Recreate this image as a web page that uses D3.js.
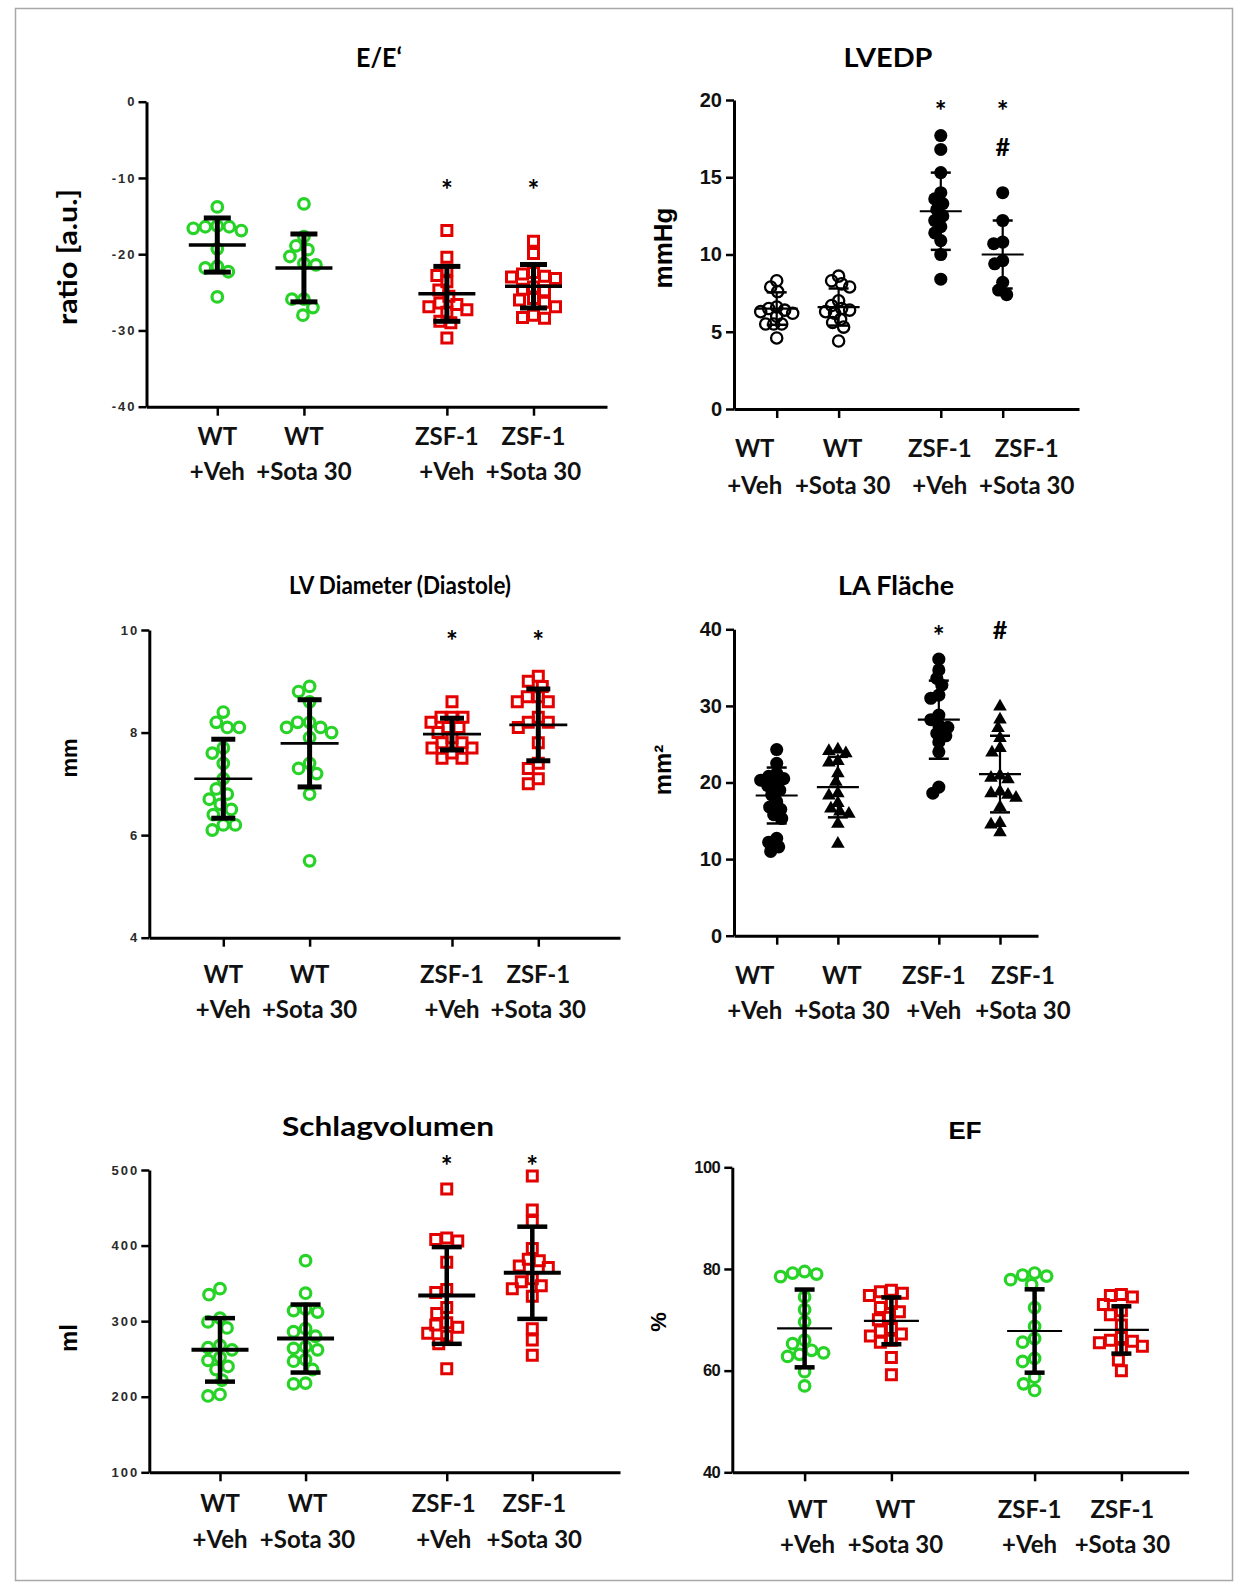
<!DOCTYPE html>
<html lang="en">
<head>
    <meta charset="UTF-8">
    <title>Echo und Hämodynamik</title>
    <script type="text/javascript" src="https://cdnjs.cloudflare.com/ajax/libs/d3/7.8.5/d3.min.js"></script>
    <style>
        body { margin: 0; background: #fff; }
        text { font-family: Lato, "Open Sans", sans-serif; }
        .tick text { font-family: "Liberation Sans", Arial, sans-serif; font-weight: bold; }
    </style>
</head>
<body>
<svg id="fig" width="1239" height="1588"></svg>
<script>
    // groups (two label lines under each tick)
    var groupTop = ["WT", "WT", "ZSF-1", "ZSF-1"];
    var groupBottom = ["+Veh", "+Sota 30", "+Veh", "+Sota 30"];
    var slots = [0, 1, 2.65, 3.65];

    // E/E'
    var eeValues = [
        [-13.8, -16.3, -16.4, -16.4, -16.6, -16.9, -19.3, -21.6, -21.8, -22.3, -25.6],
        [-13.4, -17.7, -18.9, -19.4, -20.3, -21.2, -21.4, -25.9, -25.9, -27.0, -28.0],
        [-16.9, -20.4, -22.1, -22.8, -23.6, -24.7, -25.5, -26.4, -26.6, -26.9, -27.3, -27.6, -28.8, -29.0, -31.0],
        [-18.3, -19.9, -22.4, -22.6, -22.9, -23.0, -23.2, -24.3, -24.6, -24.8, -25.8, -26.0, -26.3, -26.9, -28.0, -28.3, -28.4]
    ];
    var eeMean = [-18.8, -21.8, -25.2, -24.2];
    var eeSd = [3.55, 4.45, 3.6, 2.85];
    var eeTicks = [0, -10, -20, -30, -40];
    var eeMarks = ["", "", "*", "*"];

    // LVEDP
    var lvedpValues = [
        [8.3, 7.9, 7.6, 6.6, 6.5, 6.4, 6.3, 6.2, 6.0, 5.5, 5.5, 5.5, 4.6],
        [8.6, 8.3, 8.1, 7.9, 7.0, 6.7, 6.5, 6.4, 6.3, 6.2, 5.8, 5.6, 5.3, 4.4],
        [17.7, 16.8, 15.3, 14.0, 13.6, 13.3, 12.9, 12.5, 12.2, 11.8, 11.4, 10.9, 10.0, 8.4],
        [14.0, 12.2, 10.8, 10.7, 9.6, 9.4, 8.2, 7.7, 7.4]
    ];
    var lvedpMean = [6.5, 6.6, 12.8, 10.0];
    var lvedpSd = [1.05, 1.2, 2.5, 2.2];
    var lvedpTicks = [0, 5, 10, 15, 20];
    var lvedpMarks = ["", "", "*", "*"];
    var lvedpMarks2 = ["", "", "", "#"];

    // LV Diameter (Diastole)
    var lvdValues = [
        [8.4, 8.2, 8.1, 8.1, 7.7, 7.6, 7.4, 7.1, 6.9, 6.8, 6.7, 6.6, 6.5, 6.4, 6.2, 6.2, 6.1],
        [8.9, 8.8, 8.6, 8.2, 8.2, 8.1, 8.1, 8.0, 7.9, 7.4, 7.3, 7.2, 6.8, 5.5],
        [8.6, 8.3, 8.3, 8.3, 8.2, 8.1, 8.1, 8.0, 7.9, 7.8, 7.8, 7.7, 7.7, 7.6, 7.5, 7.5],
        [9.1, 9.0, 8.9, 8.7, 8.7, 8.6, 8.6, 8.3, 8.2, 8.2, 8.1, 7.8, 7.4, 7.3, 7.1, 7.0]
    ];
    var lvdMean = [7.1, 7.79, 7.97, 8.15];
    var lvdSd = [0.77, 0.85, 0.31, 0.7];
    var lvdTicks = [4, 6, 8, 10];
    var lvdMarks = ["", "", "*", "*"];

    // LA Fläche
    var laValues = [
        [24.3, 22.5, 21.2, 20.8, 20.5, 20.3, 20.0, 19.6, 19.0, 18.4, 17.5, 16.8, 16.5, 15.8, 15.3, 12.7, 12.2, 11.6, 11.0],
        [24.3, 24.1, 23.8, 22.8, 22.6, 21.2, 20.1, 18.6, 18.3, 17.3, 16.6, 16.2, 15.9, 14.6, 12.0],
        [36.1, 34.7, 33.6, 32.7, 31.4, 31.0, 28.8, 28.2, 27.5, 27.2, 26.4, 26.1, 25.3, 24.0, 19.4, 18.6],
        [29.9, 28.2, 27.1, 25.8, 24.5, 23.9, 20.9, 20.6, 20.4, 18.8, 18.6, 18.4, 18.0, 16.8, 14.7, 14.5, 13.5]
    ];
    var laMean = [18.3, 19.4, 28.2, 21.1];
    var laSd = [3.65, 3.95, 5.1, 5.0];
    var laTicks = [0, 10, 20, 30, 40];
    var laMarks = ["", "", "*", "#"];

    // Schlagvolumen
    var svValues = [
        [343, 335, 304, 299, 291, 268, 265, 262, 252, 248, 240, 236, 222, 203, 201],
        [380, 337, 316, 314, 312, 290, 286, 280, 266, 264, 262, 249, 247, 236, 218, 217],
        [475, 410, 408, 406, 378, 342, 338, 318, 310, 298, 295, 292, 284, 280, 270, 237],
        [492, 447, 432, 396, 382, 380, 373, 371, 356, 352, 347, 343, 333, 290, 275, 255]
    ];
    var svMean = [262, 277, 334, 364];
    var svSd = [42, 45, 64, 61];
    var svTicks = [100, 200, 300, 400, 500];
    var svMarks = ["", "", "*", "*"];

    // EF
    var efValues = [
        [79.5, 79.2, 79.0, 78.5, 74.5, 72.0, 69.6, 66.0, 65.3, 64.0, 63.5, 63.2, 62.8, 59.8, 57.0],
        [75.8, 75.5, 75.2, 74.8, 73.2, 72.4, 71.6, 70.5, 70.0, 68.3, 67.8, 67.2, 66.8, 66.0, 65.6, 62.6, 59.2],
        [79.2, 78.8, 78.6, 77.9, 76.9, 72.4, 68.7, 66.3, 65.6, 62.4, 61.8, 58.7, 57.4, 56.1],
        [75.0, 74.8, 74.5, 73.0, 71.8, 71.0, 69.0, 66.5, 66.0, 65.8, 65.5, 64.8, 64.2, 62.1, 60.0]
    ];
    var efMean = [68.3, 69.8, 67.8, 68.0];
    var efSd = [7.65, 4.6, 8.2, 4.65];
    var efTicks = [40, 60, 80, 100];
    var efMarks = ["", "", "", ""];

    var green = "#27d327", red = "#e50000";

    var markerStyles = {
        greenCircle: {type: d3.symbolCircle, size: 88, fill: "none", stroke: green, width: 3.2, diam: 12},
        redSquare: {type: d3.symbolSquare, size: 100, fill: "none", stroke: red, width: 3, diam: 11},
        openBlack: {type: d3.symbolCircle, size: 100, fill: "none", stroke: "#000", width: 2.3, diam: 8},
        dotBlack: {type: d3.symbolCircle, size: 135, fill: "#000", stroke: "none", width: 0, diam: 8.5},
        triBlack: {type: d3.symbolTriangle, size: 80, fill: "#000", stroke: "none", width: 0, diam: 8.5}
    };

    var heavyBars = {vw: 5, capW: 27, capS: 5, meanW: 57, meanS: 3.5};
    var thinBars = {vw: 2.2, capW: 20, capS: 2.5, meanW: 42, meanS: 2.2};

    var smallTicks = {size: 13, spacing: 2, color: "#2a2a2a"};
    var bigTicks = {size: 20, spacing: 0, color: "#111"};

    var panels = [
        {title: "E/E\u2018", tx: 379, ty: 58, tw: 46, tsize: 27, ylab: "ratio [a.u.]", ylx: 68, yly: 257, ylw: 136, ylabFont: "lato",
            values: eeValues, mean: eeMean, sd: eeSd, ticks: eeTicks, marks: eeMarks, markY: 184,
            domain: [-40, 0], axisX: 146.5, yTop: 101.7, yBottom: 406.7, xFirst: 217.3, xLast: 533.5, axisEnd: 607,
            markers: ["greenCircle", "greenCircle", "redSquare", "redSquare"], bars: heavyBars, tickFont: smallTicks,
            lab1: 437, lab2: 472, labShift: [0, 0, 0, 0]},
        {title: "LVEDP", tx: 888, ty: 58, tw: 89, tsize: 27, ylab: "mmHg", ylx: 663, yly: 248, ylSize: 26, ylabFont: "arial",
            values: lvedpValues, mean: lvedpMean, sd: lvedpSd, ticks: lvedpTicks, marks: lvedpMarks, markY: 105,
            marks2: lvedpMarks2, mark2Y: 147,
            domain: [0, 20], axisX: 734, yTop: 100, yBottom: 409, xFirst: 776.7, xLast: 1002.7, axisEnd: 1079,
            markers: ["openBlack", "openBlack", "dotBlack", "dotBlack"], bars: thinBars, tickFont: bigTicks,
            lab1: 449, lab2: 486, labShift: [-22, 4, -1, 24]},
        {title: "LV Diameter (Diastole)", tx: 400, ty: 585, tw: 222, tsize: 25, ylab: "mm", ylx: 69, yly: 758, ylSize: 22, ylabFont: "arial",
            values: lvdValues, mean: lvdMean, sd: lvdSd, ticks: lvdTicks, marks: lvdMarks, markY: 635,
            domain: [4, 10], axisX: 149.3, yTop: 630, yBottom: 937.7, xFirst: 223.3, xLast: 538.3, axisEnd: 620,
            markers: ["greenCircle", "greenCircle", "redSquare", "redSquare"],
            bars: {vw: 5, capW: 24, capS: 5, meanW: 58, meanS: 2.6}, tickFont: smallTicks,
            lab1: 975, lab2: 1010, labShift: [0, 0, 0, 0]},
        {title: "LA Fl\u00e4che", tx: 896, ty: 586, tw: 116, tsize: 27, ylab: "mm\u00b2", ylx: 663, yly: 770, ylSize: 24, ylabFont: "arial",
            values: laValues, mean: laMean, sd: laSd, ticks: laTicks, marks: laMarks, markY: 630,
            domain: [0, 40], axisX: 734, yTop: 629.3, yBottom: 935.7, xFirst: 776.7, xLast: 1000, axisEnd: 1038,
            markers: ["dotBlack", "triBlack", "dotBlack", "triBlack"], bars: thinBars, tickFont: bigTicks,
            lab1: 976, lab2: 1011, labShift: [-22, 4, -5, 23]},
        {title: "Schlagvolumen", tx: 388, ty: 1127, tw: 212, tsize: 27, ylab: "ml", ylx: 69, yly: 1338, ylSize: 24, ylabFont: "arial",
            values: svValues, mean: svMean, sd: svSd, ticks: svTicks, marks: svMarks, markY: 1160,
            domain: [100, 500], axisX: 149.3, yTop: 1170, yBottom: 1472.3, xFirst: 220, xLast: 532.3, axisEnd: 620,
            markers: ["greenCircle", "greenCircle", "redSquare", "redSquare"],
            bars: {vw: 4.5, capW: 30, capS: 4.5, meanW: 57, meanS: 4}, tickFont: smallTicks,
            lab1: 1504, lab2: 1540, labShift: [0, 2, -3, 2]},
        {title: "EF", tx: 965, ty: 1130, tw: 33, tsize: 24, ylab: "%", ylx: 658, yly: 1322, ylSize: 22, ylabFont: "arial", titleFont: "arial",
            values: efValues, mean: efMean, sd: efSd, ticks: efTicks, marks: efMarks, markY: 1160,
            domain: [40, 100], axisX: 732.3, yTop: 1167.3, yBottom: 1472.3, xFirst: 804.6, xLast: 1121.4, axisEnd: 1188.6,
            markers: ["greenCircle", "redSquare", "greenCircle", "redSquare"],
            bars: {vw: 4.5, capW: 20, capS: 4.5, meanW: 55, meanS: 2.2}, tickFont: {size: 16.5, spacing: -0.5, color: "#111"},
            lab1: 1510, lab2: 1545, labShift: [3, 4, -5, 1]}
    ];

    var svg = d3.select("#fig");

    // outer frame of the figure
    svg.append("rect")
        .attr("x", 15.5).attr("y", 8.5)
        .attr("width", 1217).attr("height", 1572)
        .attr("fill", "none")
        .attr("stroke", "#a8a8a8")
        .attr("stroke-width", 1.5);

    panels.forEach(drawPanel);

    // simple beeswarm: keep value on y, push points sideways until they stop colliding
    function swarm(vals, y, cx, diam) {
        var pts = vals.map(function(v) { return {v: v, py: y(v)}; })
            .sort(function(a, b) { return a.py - b.py; });
        var placed = [];
        pts.forEach(function(p) {
            for (var k = 0; k < 400; k++) {
                var off = (k % 2 === 1 ? -1 : 1) * Math.ceil(k / 2);
                var hit = placed.some(function(q) {
                    var dx = q.px - (cx + off), dy = q.py - p.py;
                    return dx * dx + dy * dy < diam * diam;
                });
                if (!hit) { p.px = cx + off; break; }
            }
            placed.push(p);
        });
        return placed;
    }

    function drawPanel(p) {
        var g = svg.append("g");

        var y = d3.scaleLinear()
            .domain(p.domain)
            .range([p.yBottom, p.yTop]);

        var x = d3.scaleLinear()
            .domain([slots[0], slots[3]])
            .range([p.xFirst, p.xLast]);

        // x axis scale stretched so the domain line spans the full axis
        var xAxisScale = x.copy()
            .domain([x.invert(p.axisX), x.invert(p.axisEnd)])
            .range([p.axisX, p.axisEnd]);

        var yAxis = d3.axisLeft(y)
            .tickValues(p.ticks)
            .tickSize(8)
            .tickSizeOuter(0)
            .tickPadding(p.tickFont.spacing > 0 ? 2 : 4)
            .tickFormat(function(d) { return String(d); });

        var ya = g.append("g")
            .attr("transform", "translate(" + p.axisX + ",0)")
            .call(yAxis);
        ya.select(".domain").attr("stroke-width", 3).attr("stroke", "#000");
        ya.selectAll(".tick line").attr("stroke-width", 2.5).attr("stroke", "#000");
        ya.selectAll(".tick text")
            .attr("font-size", p.tickFont.size)
            .attr("letter-spacing", p.tickFont.spacing)
            .attr("fill", p.tickFont.color);

        var xAxis = d3.axisBottom(xAxisScale)
            .tickValues(slots)
            .tickSize(9)
            .tickSizeOuter(0)
            .tickFormat("");

        var xa = g.append("g")
            .attr("transform", "translate(0," + p.yBottom + ")")
            .call(xAxis);
        xa.select(".domain").attr("stroke-width", 3).attr("stroke", "#000");
        xa.selectAll(".tick line").attr("stroke-width", 2.5).attr("stroke", "#000");

        // group labels
        var labs = g.append("g")
            .attr("font-weight", "bold")
            .attr("font-size", 24)
            .attr("text-anchor", "middle")
            .attr("fill", "#111");
        slots.forEach(function(s, i) {
            labs.append("text")
                .attr("x", x(s) + p.labShift[i])
                .attr("y", p.lab1 + 8)
                .text(groupTop[i]);
            labs.append("text")
                .attr("x", x(s) + p.labShift[i])
                .attr("y", p.lab2 + 8)
                .text(groupBottom[i]);
        });

        // title
        g.append("text")
            .attr("x", p.tx)
            .attr("y", p.ty + 9)
            .attr("text-anchor", "middle")
            .attr("font-weight", "bold")
            .attr("font-size", p.tsize)
            .attr("textLength", p.tw)
            .attr("lengthAdjust", "spacingAndGlyphs")
            .style("font-family", p.titleFont === "arial" ? "'Liberation Sans', Arial, sans-serif" : null)
            .text(p.title);

        // y label
        var yl = g.append("text")
            .attr("transform", "translate(" + p.ylx + "," + p.yly + ") rotate(-90)")
            .attr("text-anchor", "middle")
            .attr("dy", "0.35em")
            .attr("font-weight", "bold")
            .attr("font-size", p.ylabFont === "lato" ? 27 : p.ylSize)
            .style("font-family", p.ylabFont === "lato" ? null : "'Liberation Sans', Arial, sans-serif")
            .text(p.ylab);
        if (p.ylw) {
            yl.attr("textLength", p.ylw).attr("lengthAdjust", "spacingAndGlyphs");
        }

        // points
        p.values.forEach(function(vals, i) {
            var ms = markerStyles[p.markers[i]];
            var pts = swarm(vals, y, x(slots[i]), ms.diam);
            g.append("g")
                .selectAll("path")
                .data(pts)
                .enter()
                .append("path")
                .attr("transform", function(d) { return "translate(" + d.px + "," + d.py + ")"; })
                .attr("d", d3.symbol().type(ms.type).size(ms.size))
                .attr("fill", ms.fill)
                .attr("stroke", ms.stroke)
                .attr("stroke-width", ms.width);
        });

        // mean and SD
        var b = p.bars;
        var bars = g.append("g").attr("stroke", "#000");
        slots.forEach(function(s, i) {
            var cx = x(s), m = p.mean[i], sd = p.sd[i];
            bars.append("line")
                .attr("x1", cx).attr("x2", cx)
                .attr("y1", y(m + sd)).attr("y2", y(m - sd))
                .attr("stroke-width", b.vw);
            [m + sd, m - sd].forEach(function(v) {
                bars.append("line")
                    .attr("x1", cx - b.capW / 2).attr("x2", cx + b.capW / 2)
                    .attr("y1", y(v)).attr("y2", y(v))
                    .attr("stroke-width", b.capS);
            });
            bars.append("line")
                .attr("x1", cx - b.meanW / 2).attr("x2", cx + b.meanW / 2)
                .attr("y1", y(m)).attr("y2", y(m))
                .attr("stroke-width", b.meanS);
        });

        // significance marks
        var sig = g.append("g")
            .attr("text-anchor", "middle")
            .attr("font-weight", "bold")
            .style("font-family", "'Liberation Sans', Arial, sans-serif");
        p.marks.forEach(function(t, i) {
            if (!t) return;
            sig.append("text")
                .attr("x", x(slots[i]))
                .attr("y", p.markY + (t === "*" ? 16 : 9))
                .attr("font-size", t === "*" ? 28 : 25)
                .text(t);
        });
        if (p.marks2) {
            p.marks2.forEach(function(t, i) {
                if (!t) return;
                sig.append("text")
                    .attr("x", x(slots[i]))
                    .attr("y", p.mark2Y + 9)
                    .attr("font-size", 25)
                    .text(t);
            });
        }
    }
</script>
</body>
</html>
